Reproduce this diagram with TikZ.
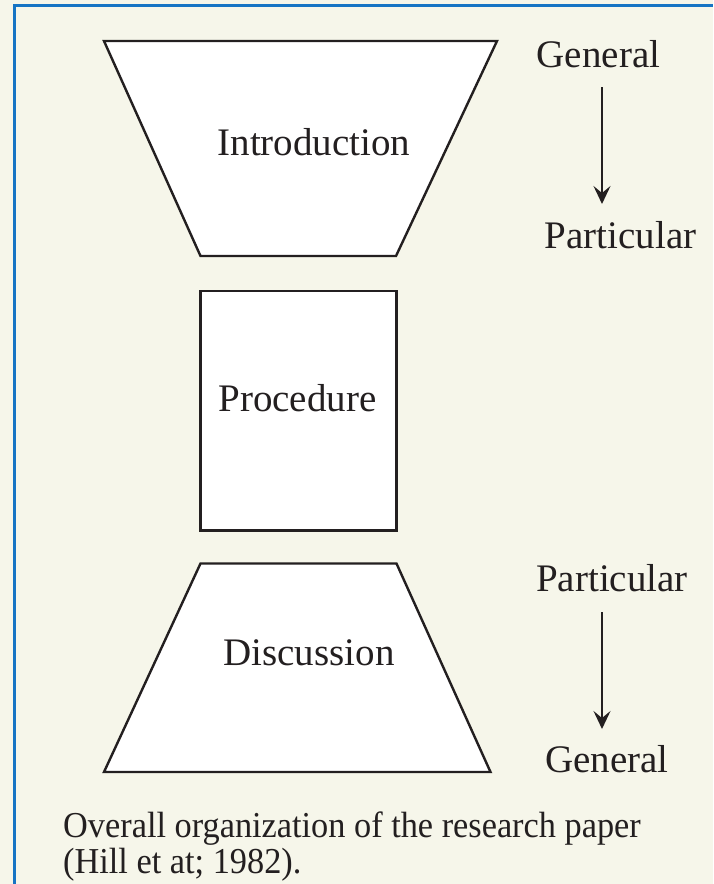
\documentclass[tikz,border=0pt]{standalone}
\usepackage{fontspec}
\setmainfont{Liberation Serif}
\usetikzlibrary{arrows.meta}
\definecolor{bgbeige}{RGB}{246,246,234}
\definecolor{framblue}{RGB}{22,116,196}
\definecolor{inkdark}{RGB}{35,31,32}
\tikzset{
  shapeline/.style={draw=inkdark, line width=2.4pt, fill=white, line join=miter},
  lbl/.style={font=\fontsize{39}{47}\selectfont, text=inkdark, inner sep=0pt, anchor=base},
  flowarrow/.style={draw=inkdark, line width=2pt, -{Stealth[length=18pt,width=17pt,inset=7pt]}},
  captxt/.style={font=\fontsize{36.5}{37}\selectfont, text=inkdark, inner sep=0pt, anchor=base west, xscale=0.94, transform shape}
}
\begin{document}
\begin{tikzpicture}[x=1pt,y=-1pt]
\useasboundingbox (0,0) rectangle (713,884);
\fill[bgbeige] (0,0) rectangle (713,884);
\draw[framblue, line width=3pt] (14,884) -- (14,5.5) -- (713,5.5);

% Introduction (inverted trapezoid)
\coordinate (i1) at (104,41);
\coordinate (i2) at (497,41);
\coordinate (i3) at (396,256);
\coordinate (i4) at (200.5,256);
\draw[shapeline] (i1) -- (i2) -- (i3) -- (i4) -- cycle;
\node[lbl] (intro) at (314,155) {Introduction};

% Procedure (rectangle)
\coordinate (p1) at (200.5,291);
\coordinate (p2) at (396.5,530.5);
\draw[shapeline] (p1) rectangle (p2);
\node[lbl] (proc) at (297.5,411.5) {Procedure};

% Discussion (trapezoid)
\coordinate (d1) at (200.5,563.5);
\coordinate (d2) at (396.5,563.5);
\coordinate (d3) at (490.5,772);
\coordinate (d4) at (104,772);
\draw[shapeline] (d1) -- (d2) -- (d3) -- (d4) -- cycle;
\node[lbl] (disc) at (309,665.5) {Discussion};

% right-hand labels and arrows
\node[lbl] (gen1) at (598.5,67.5) {General};
\node[lbl] (par1) at (620.5,248.5) {Particular};
\coordinate (a1s) at (602,87);
\coordinate (a1e) at (602,204);
\draw[flowarrow] (a1s) -- (a1e);

\node[lbl] (par2) at (612,591.7) {Particular};
\node[lbl] (gen2) at (607,772.7) {General};
\coordinate (a2s) at (602,612);
\coordinate (a2e) at (602,729);
\draw[flowarrow] (a2s) -- (a2e);

% caption
\node[captxt] (cap1) at (63,837) {Overall organization of the research paper};
\node[captxt] (cap2) at (63,873) {(Hill et at; 1982).};
\end{tikzpicture}
\end{document}
